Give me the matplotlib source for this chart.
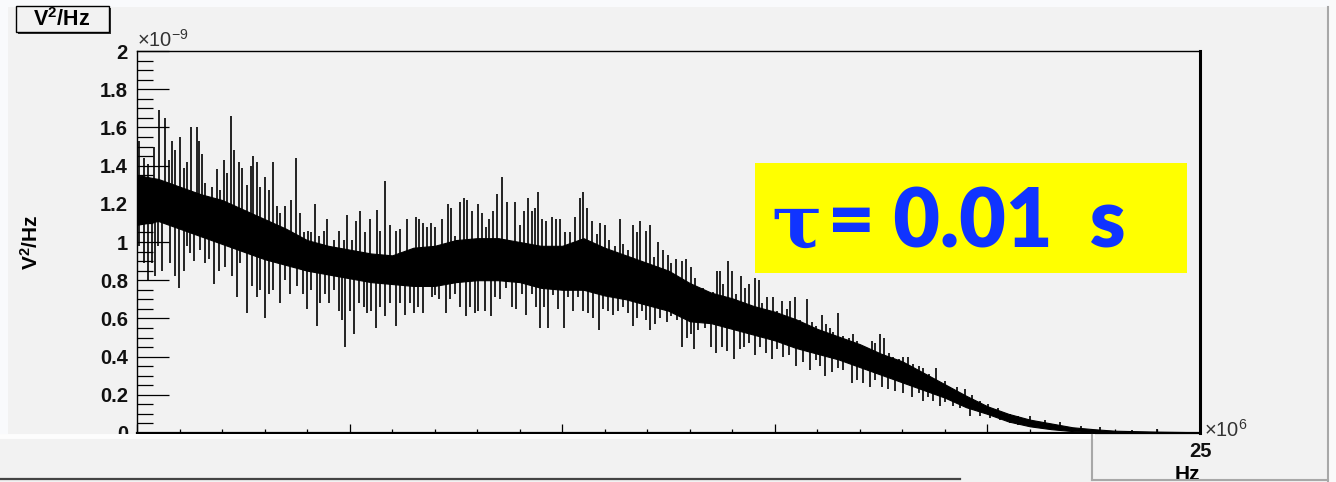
import numpy as np
import matplotlib
matplotlib.use("Agg")
import matplotlib.pyplot as plt
from matplotlib.patches import Rectangle
from matplotlib.lines import Line2D
from matplotlib.transforms import Affine2D
from matplotlib.ticker import MultipleLocator, FuncFormatter

# Noise power spectral density: frequency in MHz, density in 1e-9 V^2/Hz.
# Dense core of the spectrum (lower / upper edge)
core_freq = [0.0, 0.5, 1.0, 1.5, 2.0, 2.5, 3.0, 3.5, 4.0, 4.5, 5.0, 5.5, 6.0, 6.5,
             7.0, 7.5, 8.0, 8.5, 9.0, 9.5, 10.0, 10.5, 11.0, 11.5, 12.0, 12.5,
             13.0, 13.5, 14.0, 14.5, 15.0, 15.5, 16.0, 16.5, 17.0, 17.5, 18.0,
             18.5, 19.0, 19.5, 20.0, 20.5, 21.0, 21.5, 22.0, 22.5, 23.0, 24.0, 25.0]
core_low = [1.09, 1.11, 1.07, 1.03, 0.99, 0.95, 0.91, 0.88, 0.85, 0.83, 0.81, 0.79,
            0.78, 0.77, 0.77, 0.79, 0.80, 0.80, 0.79, 0.76, 0.75, 0.75, 0.72, 0.70,
            0.67, 0.64, 0.585, 0.575, 0.545, 0.515, 0.485, 0.445, 0.415, 0.385,
            0.345, 0.305, 0.265, 0.225, 0.185, 0.135, 0.10, 0.06, 0.035, 0.02, 0.01,
            0.005, 0.002, 0.001, 0.0]
core_high = [1.35, 1.33, 1.29, 1.25, 1.22, 1.17, 1.12, 1.07, 1.01, 0.98, 0.96, 0.94,
             0.93, 0.97, 0.98, 1.01, 1.02, 1.02, 1.00, 0.98, 0.98, 1.02, 0.97, 0.93,
             0.89, 0.85, 0.785, 0.735, 0.705, 0.665, 0.635, 0.595, 0.545, 0.505,
             0.465, 0.415, 0.375, 0.315, 0.255, 0.195, 0.14, 0.10, 0.07, 0.05, 0.03,
             0.02, 0.012, 0.007, 0.004]

# Upward excursions
peak_freq = [0.04, 0.16, 0.27, 0.39, 0.51, 0.65, 0.75, 0.82, 0.90, 1.02, 1.10, 1.18,
             1.28, 1.40, 1.45, 1.54, 1.61, 1.76, 1.88, 1.96, 2.04, 2.12, 2.20, 2.27,
             2.39, 2.47, 2.59, 2.67, 2.73, 2.82, 2.90, 3.02, 3.10, 3.20, 3.29, 3.37,
             3.49, 3.62, 3.75, 3.84, 3.92, 4.01, 4.09, 4.18, 4.27, 4.39, 4.47, 4.63,
             4.74, 4.86, 4.95, 5.06, 5.15, 5.25, 5.37, 5.49, 5.64, 5.72, 5.84, 5.96,
             6.08, 6.19, 6.36, 6.56, 6.64, 6.73, 6.81, 6.91, 7.01, 7.17, 7.32, 7.38,
             7.48, 7.60, 7.69, 7.75, 7.87, 8.01, 8.11, 8.21, 8.29, 8.38, 8.46, 8.58,
             8.71, 8.89, 9.01, 9.11, 9.20, 9.28, 9.36, 9.42, 9.52, 9.63, 9.75, 9.85,
             9.95, 10.07, 10.18, 10.30, 10.42, 10.49, 10.58, 10.69, 10.81, 10.89,
             11.01, 11.11, 11.24, 11.36, 11.44, 11.55, 11.66, 11.77, 11.83, 11.96,
             12.06, 12.16, 12.26, 12.38, 12.48, 12.57, 12.68, 12.81, 12.90, 13.02,
             13.12, 13.24, 13.32, 13.44, 13.54, 13.63, 13.71, 13.79, 13.89, 13.99,
             14.09, 14.20, 14.30, 14.40, 14.53, 14.63, 14.71, 14.81, 14.95, 15.06,
             15.16, 15.28, 15.36, 15.48, 15.59, 15.75, 15.87, 15.97, 16.10, 16.20,
             16.30, 16.38, 16.49, 16.61, 16.75, 16.85, 16.94, 17.04, 17.16, 17.28,
             17.36, 17.47, 17.57, 17.69, 17.79, 17.91, 18.02, 18.14, 18.26, 18.38,
             18.49, 18.63, 18.79, 18.89, 19.00, 19.12, 19.28, 19.47, 19.63, 19.83,
             20.02, 20.26, 20.53, 20.73, 21.00, 21.35, 21.71, 22.20, 22.65, 23.40,
             23.99]
peak_val = [1.53, 1.44, 1.41, 1.50, 1.69, 1.65, 1.43, 1.53, 1.48, 1.55, 1.39, 1.42,
            1.60, 1.60, 1.53, 1.46, 1.31, 1.29, 1.38, 1.27, 1.43, 1.36, 1.66, 1.48,
            1.42, 1.39, 1.30, 1.40, 1.45, 1.42, 1.29, 1.34, 1.27, 1.42, 1.19, 1.15,
            1.19, 1.22, 1.44, 1.15, 1.05, 1.06, 1.05, 1.20, 1.03, 1.06, 1.12, 1.01,
            1.06, 1.01, 1.14, 1.01, 1.11, 1.16, 1.05, 1.12, 1.17, 1.06, 1.32, 1.09,
            1.06, 1.07, 1.12, 1.13, 1.12, 1.10, 1.08, 1.10, 1.08, 1.12, 1.20, 1.18,
            1.03, 1.21, 1.23, 1.22, 1.16, 1.20, 1.15, 1.08, 1.12, 1.16, 1.25, 1.34,
            1.21, 1.21, 1.09, 1.16, 1.23, 1.16, 1.18, 1.26, 1.12, 1.11, 1.13, 1.12,
            1.12, 1.05, 1.05, 1.13, 1.23, 1.26, 1.18, 1.11, 1.04, 1.10,
            1.09, 1.01, 0.98, 1.12, 0.99, 0.96, 1.09, 1.05, 1.11, 1.06,
            1.09, 0.92, 1.00, 0.96, 0.93, 0.89, 0.91, 0.90, 0.91, 0.87,
            0.81, 0.75, 0.76, 0.74, 0.74, 0.85, 0.85, 0.78, 0.90, 0.85,
            0.73, 0.82, 0.76, 0.78, 0.81, 0.80, 0.68, 0.71, 0.71, 0.64,
            0.69, 0.65, 0.69, 0.71, 0.59, 0.70, 0.58, 0.56, 0.62, 0.57,
            0.55, 0.53, 0.63, 0.51, 0.50, 0.52, 0.48, 0.45, 0.44, 0.48,
            0.47, 0.52, 0.50, 0.42, 0.40, 0.39, 0.40, 0.40, 0.36, 0.35,
            0.34, 0.31, 0.34, 0.26, 0.27, 0.24, 0.24, 0.23, 0.20, 0.17,
            0.15, 0.13, 0.10, 0.09, 0.09, 0.07, 0.055, 0.035, 0.03, 0.015,
            0.02]

# Downward excursions
dip_freq = [0.04, 0.16, 0.27, 0.35, 0.43, 0.49, 0.59, 0.78, 0.90, 0.98, 1.10, 1.18,
            1.25, 1.33, 1.49, 1.61, 1.69, 1.82, 1.92, 2.08, 2.23, 2.35, 2.43, 2.59,
            2.71, 2.82, 2.90, 3.02, 3.10, 3.21, 3.37, 3.49, 3.61, 3.76, 3.90, 4.00,
            4.09, 4.23, 4.31, 4.43, 4.51, 4.63, 4.74, 4.82, 4.90, 5.02, 5.10, 5.21,
            5.33, 5.41, 5.50, 5.62, 5.72, 5.84, 5.96, 6.10, 6.19, 6.30, 6.42, 6.51,
            6.62, 6.73, 6.81, 6.93, 7.01, 7.11, 7.26, 7.36, 7.48, 7.60, 7.73, 7.83,
            7.95, 8.03, 8.18, 8.32, 8.42, 8.54, 8.68, 8.81, 8.91, 9.05, 9.16, 9.28,
            9.38, 9.48, 9.57, 9.67, 9.79, 9.91, 10.04, 10.14, 10.26, 10.38, 10.50,
            10.61, 10.72, 10.87, 10.97, 11.08, 11.20, 11.32, 11.42, 11.55, 11.66,
            11.77, 11.87, 11.97, 12.06, 12.18, 12.30, 12.46, 12.57, 12.69, 12.81,
            12.93, 13.02, 13.10, 13.20, 13.36, 13.49, 13.62, 13.75, 13.87, 14.03,
            14.17, 14.28, 14.40, 14.53, 14.65, 14.79, 14.93, 15.06, 15.19, 15.34,
            15.51, 15.67, 15.83, 15.97, 16.06, 16.18, 16.34, 16.49, 16.61, 16.81,
            16.93, 17.08, 17.24, 17.36, 17.51, 17.67, 17.83, 18.02, 18.22, 18.38,
            18.49, 18.61, 18.73, 18.89, 19.00, 19.20, 19.36, 19.59, 19.83, 20.06,
            20.30, 20.53, 20.73]
dip_val = [0.98, 0.89, 0.80, 0.89, 0.82, 0.98, 0.85, 0.89, 0.82, 0.76, 0.85, 0.98,
           0.94, 0.90, 0.96, 0.89, 0.91, 0.78, 0.85, 0.87, 0.82, 0.71, 0.89, 0.63,
           0.77, 0.71, 0.75, 0.60, 0.73, 0.75, 0.68, 0.80, 0.73, 0.77, 0.73, 0.65,
           0.75, 0.56, 0.68, 0.73, 0.68, 0.75, 0.64, 0.59, 0.45, 0.64, 0.52, 0.68,
           0.66, 0.63, 0.64, 0.55, 0.66, 0.61, 0.68, 0.56, 0.68, 0.62, 0.68, 0.63,
           0.66, 0.63, 0.77, 0.71, 0.72, 0.70, 0.63, 0.70, 0.73, 0.66, 0.61, 0.66,
           0.63, 0.64, 0.64, 0.61, 0.71, 0.70, 0.76, 0.66, 0.65, 0.73, 0.62, 0.73,
           0.66, 0.55, 0.66, 0.55, 0.72, 0.65, 0.55, 0.71, 0.64, 0.71, 0.64,
           0.63, 0.60, 0.54, 0.65, 0.64, 0.62, 0.64, 0.66, 0.63, 0.56,
           0.60, 0.64, 0.59, 0.54, 0.57, 0.60, 0.58, 0.61, 0.59, 0.45,
           0.50, 0.52, 0.44, 0.54, 0.55, 0.45, 0.42, 0.45, 0.43, 0.39,
           0.44, 0.45, 0.47, 0.41, 0.45, 0.42, 0.39, 0.44, 0.40, 0.41,
           0.35, 0.37, 0.33, 0.38, 0.35, 0.30, 0.32, 0.34, 0.33, 0.26,
           0.28, 0.26, 0.24, 0.28, 0.24, 0.23, 0.22, 0.21, 0.19, 0.21,
           0.17, 0.19, 0.17, 0.14, 0.16, 0.14, 0.13, 0.09, 0.09, 0.08,
           0.07, 0.05, 0.04]

y_ticks = [0.0, 0.2, 0.4, 0.6, 0.8, 1.0, 1.2, 1.4, 1.6, 1.8, 2.0]
x_ticks = [0, 5, 10, 15, 20, 25]

W, H, DPI = 1336, 482, 100
BG = "#f2f2f2"

plt.rcParams["font.family"] = ["Liberation Sans", "DejaVu Sans"]
plt.rcParams["mathtext.fontset"] = "custom"
plt.rcParams["mathtext.rm"] = "Liberation Sans"
plt.rcParams["mathtext.it"] = "Liberation Sans"
plt.rcParams["mathtext.bf"] = "Liberation Sans:bold"

fig = plt.figure(figsize=(W / DPI, H / DPI), dpi=DPI, facecolor=BG)
# pixel coordinates with the origin at the top-left corner
pix = Affine2D().scale(1.0 / W, -1.0 / H).translate(0, 1) + fig.transFigure


def rect(x0, y0, x1, y1, **kw):
    r = Rectangle((x0, y0), x1 - x0, y1 - y0, transform=pix, **kw)
    fig.add_artist(r)
    return r


def line(xs, ys, **kw):
    fig.add_artist(Line2D(xs, ys, transform=pix, **kw))


# canvas edges
rect(0, 0, W, 7, facecolor="#f9fafc", edgecolor="none", zorder=-1)
rect(0, 0, 8, H, facecolor="#f9fafc", edgecolor="none", zorder=-1)
rect(1329, 0, W, H, facecolor="#fafafa", edgecolor="none", zorder=-1)
line([1328, 1328], [7, H], color="#a8a8a8", lw=1.5, zorder=-1)

ax = fig.add_axes([137 / W, 1 - 433 / H, (1200 - 137) / W, (433 - 51) / H])
ax.set_facecolor(BG)

f = np.array(core_freq)
lo = np.array(core_low)
hi = np.array(core_high)
mid = (lo + hi) / 2
ax.fill_between(f, lo, hi, facecolor="black", edgecolor="black", lw=0.8)
ax.vlines(peak_freq, np.interp(peak_freq, f, mid), peak_val, color="black", lw=1.2)
ax.vlines(dip_freq, dip_val, np.interp(dip_freq, f, mid), color="black", lw=1.2)

ax.set_xlim(0, 25)
ax.set_ylim(0, 2)

for side in ["top", "left"]:
    ax.spines[side].set_linewidth(1.0)
ax.spines["right"].set_linewidth(2.2)
ax.spines["bottom"].set_linewidth(1.6)

ax.yaxis.set_major_locator(plt.FixedLocator(y_ticks))
ax.yaxis.set_minor_locator(MultipleLocator(0.05))
ax.xaxis.set_major_locator(plt.FixedLocator(x_ticks))
ax.xaxis.set_minor_locator(MultipleLocator(1))
ax.yaxis.set_major_formatter(FuncFormatter(lambda v, p: f"{v:g}"))
ax.xaxis.set_major_formatter(FuncFormatter(lambda v, p: f"{v:g}"))
ax.tick_params(axis="y", which="major", direction="in", length=23, width=0.9,
               pad=6.5, labelsize=14.5)
ax.tick_params(axis="y", which="minor", direction="in", length=11.5, width=0.9)
ax.tick_params(axis="x", which="major", direction="in", length=6.5, width=0.9,
               pad=6.5, labelsize=14.5)
ax.tick_params(axis="x", which="minor", direction="in", length=3.0, width=0.9)
for lab in ax.get_yticklabels() + ax.get_xticklabels():
    lab.set_fontweight("bold")
    lab.set_color("#111111")

ax.set_ylabel(r"V$^{\mathbf{2}}$/Hz", fontsize=15, fontweight="bold", labelpad=0)
ax.yaxis.set_label_coords((42 - 137) / 1063, 0.5)
ax.set_xlabel("Hz", fontsize=15, fontweight="bold", loc="right", labelpad=3)

fig.text(137, 47, r"$\times10^{-9}$", transform=pix, fontsize=14.5, color="#333333",
         ha="left", va="baseline")
fig.text(1204, 437, r"$\times10^{6}$", transform=pix, fontsize=14.5, color="#333333",
         ha="left", va="baseline")

# title box
rect(18, 8, 111, 34, facecolor="#333333", edgecolor="none", zorder=4)
rect(16, 6, 109, 32, facecolor=BG, edgecolor="black", lw=1.0, zorder=5)
fig.text(62, 20, r"V$^{\mathbf{2}}$/Hz", transform=pix, fontsize=15.5,
         fontweight="bold", ha="center", va="center", zorder=6)

# annotation box
rect(755, 163, 1187, 273, facecolor="#ffff00", edgecolor="none", zorder=5)
fig.text(771, 248, "\u03c4", transform=pix, fontsize=54, fontweight="bold",
         color="#1034ff", family=["DejaVu Serif", "DejaVu Sans"],
         ha="left", va="baseline", zorder=6)
fig.text(828, 248, "= 0.01  s", transform=pix, fontsize=58, fontweight="heavy",
         color="#1034ff", family=["Lato", "DejaVu Sans"],
         ha="left", va="baseline", zorder=6)

# lower panels
rect(0, 434, 1092, H, facecolor=BG, edgecolor="none", zorder=5)
line([0, 1092], [435.5, 435.5], color="#fdfdfd", lw=3.5, zorder=6)
line([0, 960], [478.5, 478.5], color="#444444", lw=1.6, zorder=6)
line([1092, 1092], [435, 480], color="#a8a8a8", lw=1.5, zorder=6)
line([1092, 1328], [480, 480], color="#a8a8a8", lw=1.5, zorder=6)

fig.savefig("out.png", dpi=DPI, facecolor=BG)
